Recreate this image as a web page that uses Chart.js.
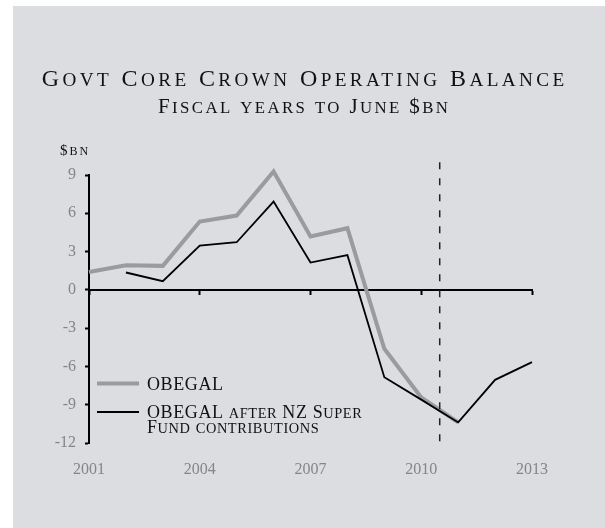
<!DOCTYPE html>
<html>
<head>
<meta charset="utf-8">
<title>Govt Core Crown Operating Balance</title>
<script src="https://cdn.jsdelivr.net/npm/chart.js@4.4.0/dist/chart.umd.min.js"></script>
<style>
  html, body { margin: 0; padding: 0; background: #ffffff; }
  #chartBox {
    position: absolute;
    left: 13px;
    top: 6px;
    width: 592px;
    height: 522px;
    background: #dcdde0;
  }
</style>
</head>
<body>
<div id="chartBox"><canvas id="balanceChart"></canvas></div>
<script>
// Fiscal years to June, $bn
const years = [2001, 2002, 2003, 2004, 2005, 2006, 2007, 2008, 2009, 2010, 2011, 2012, 2013];
const obegal = [1.4, 1.93, 1.88, 5.35, 5.82, 9.27, 4.18, 4.83, -4.62, -8.43, -10.39, null, null];
const obegalAfterSuper = [null, 1.36, 0.68, 3.47, 3.73, 6.92, 2.14, 2.72, -6.84, -8.6, -10.39, -7.05, -5.66];

const yTicks = [-12, -9, -6, -3, 0, 3, 6, 9];
const xTicks = [2001, 2004, 2007, 2010, 2013];
const forecastStart = 2010.5;

const titleText = "Govt Core Crown Operating Balance";
const subtitleText = "Fiscal years to June $bn";
const unitText = "$bn";
const legendLabels = [["OBEGAL"], ["OBEGAL after NZ Super", "Fund contributions"]];

const SERIF = '"Liberation Serif", "Times New Roman", serif';
const GREY_LINE = "#9a9b9d";
const GREY_TEXT = "#858585";

document.addEventListener("DOMContentLoaded", () => {
  const canvas = document.querySelector("#balanceChart");

  // Pair every value with its year, skipping the years with no figure
  const toPoints = (values) =>
    years.map((year, i) => ({ x: year, y: values[i] })).filter((p) => p.y !== null);

  // Small caps: lower-case letters become capitals at a reduced size
  const drawCaps = (ctx, text, x, y, size, align, color, spacing) => {
    const small = size * 0.8;
    const runs = [];
    for (const ch of text) {
      const runSize = ch !== ch.toUpperCase() ? small : size;
      const last = runs[runs.length - 1];
      if (last && last.size === runSize) {
        last.text += ch.toUpperCase();
      } else {
        runs.push({ text: ch.toUpperCase(), size: runSize });
      }
    }

    ctx.save();
    ctx.fillStyle = color;
    ctx.textAlign = "left";
    ctx.textBaseline = "alphabetic";
    ctx.letterSpacing = `${spacing}px`;
    const widths = runs.map((run) => {
      ctx.font = `${run.size}px ${SERIF}`;
      return ctx.measureText(run.text).width;
    });
    const total = widths.reduce((a, b) => a + b, 0) - spacing;
    let cursor = align === "center" ? x - total / 2 : x;
    runs.forEach((run, i) => {
      ctx.font = `${run.size}px ${SERIF}`;
      ctx.fillText(run.text, cursor, y);
      cursor += widths[i];
    });
    ctx.restore();
  };

  // Titles, unit label and the legend in the lower left of the plot
  const annotations = {
    id: "annotations",
    afterDraw: (chart) => {
      const { ctx, chartArea } = chart;
      const centre = chart.width / 2 - 6;

      drawCaps(ctx, titleText, centre, 80, 24, "center", "#111111", 3.4);
      drawCaps(ctx, subtitleText, centre, 107, 21, "center", "#111111", 2.4);
      drawCaps(ctx, unitText, chartArea.left - 29, 149, 15, "left", "#111111", 2);

      const lineLeft = chartArea.left + 8;
      const lineRight = chartArea.left + 50;
      const textLeft = chartArea.left + 58;
      const rows = [
        { y: chartArea.bottom - 59.5, dataset: chart.data.datasets[1] },
        { y: chartArea.bottom - 31, dataset: chart.data.datasets[0] },
      ];

      rows.forEach((row, i) => {
        ctx.save();
        ctx.strokeStyle = row.dataset.borderColor;
        ctx.lineWidth = row.dataset.borderWidth;
        ctx.beginPath();
        ctx.moveTo(lineLeft, row.y);
        ctx.lineTo(lineRight, row.y);
        ctx.stroke();
        ctx.restore();

        legendLabels[i].forEach((line, j) => {
          drawCaps(ctx, line, textLeft, row.y + 6 + j * 15, 18, "left", "#111111", 0.6);
        });
      });
    },
  };

  new Chart(canvas, {
    type: "line",
    data: {
      datasets: [
        {
          label: "OBEGAL after NZ Super Fund contributions",
          data: toPoints(obegalAfterSuper),
          borderColor: "#000000",
          borderWidth: 1.8,
          pointRadius: 0,
          tension: 0,
          clip: false,
          order: 0,
        },
        {
          label: "OBEGAL",
          data: toPoints(obegal),
          borderColor: GREY_LINE,
          borderWidth: 4,
          borderJoinStyle: "miter",
          pointRadius: 0,
          tension: 0,
          clip: false,
          order: 1,
        },
        {
          label: "Forecast",
          data: [
            { x: forecastStart, y: 10 },
            { x: forecastStart, y: -12 },
          ],
          borderColor: "#222222",
          borderWidth: 1.5,
          borderDash: [7, 9],
          pointRadius: 0,
          clip: false,
          order: -1,
        },
      ],
    },
    options: {
      responsive: true,
      maintainAspectRatio: false,
      animation: false,
      layout: {
        padding: { top: 169, right: 73, left: 0, bottom: 0 },
      },
      plugins: {
        legend: { display: false },
        tooltip: { enabled: false },
      },
      scales: {
        x: {
          type: "linear",
          position: "bottom",
          min: 2001,
          max: 2013,
          afterBuildTicks: (scale) => {
            scale.ticks = xTicks.map((v) => ({ value: v }));
          },
          afterFit: (scale) => {
            scale.height = 85;
          },
          border: { display: false },
          grid: { display: false, drawTicks: false },
          ticks: {
            padding: 17,
            color: GREY_TEXT,
            font: { family: SERIF, size: 16 },
            callback: (value) => String(value),
          },
        },
        // axis line drawn through zero with its tick marks
        xZero: {
          type: "linear",
          position: { y: 0 },
          min: 2001,
          max: 2013,
          afterBuildTicks: (scale) => {
            scale.ticks = xTicks.map((v) => ({ value: v }));
          },
          border: { display: true, color: "#000000", width: 2 },
          grid: {
            drawOnChartArea: false,
            drawTicks: true,
            tickLength: 4,
            tickWidth: 2,
            tickColor: "#000000",
          },
          ticks: { display: false },
        },
        y: {
          type: "linear",
          min: -12,
          max: 9,
          afterBuildTicks: (scale) => {
            scale.ticks = yTicks.map((v) => ({ value: v }));
          },
          afterFit: (scale) => {
            scale.width = 76;
          },
          border: { display: true, color: "#000000", width: 2 },
          grid: {
            drawOnChartArea: false,
            drawTicks: true,
            tickLength: 4,
            tickWidth: 2,
            tickColor: "#000000",
          },
          ticks: {
            padding: 9,
            color: GREY_TEXT,
            font: { family: SERIF, size: 16 },
            callback: (value) => String(value),
          },
        },
      },
    },
    plugins: [annotations],
  });
});
</script>
</body>
</html>
